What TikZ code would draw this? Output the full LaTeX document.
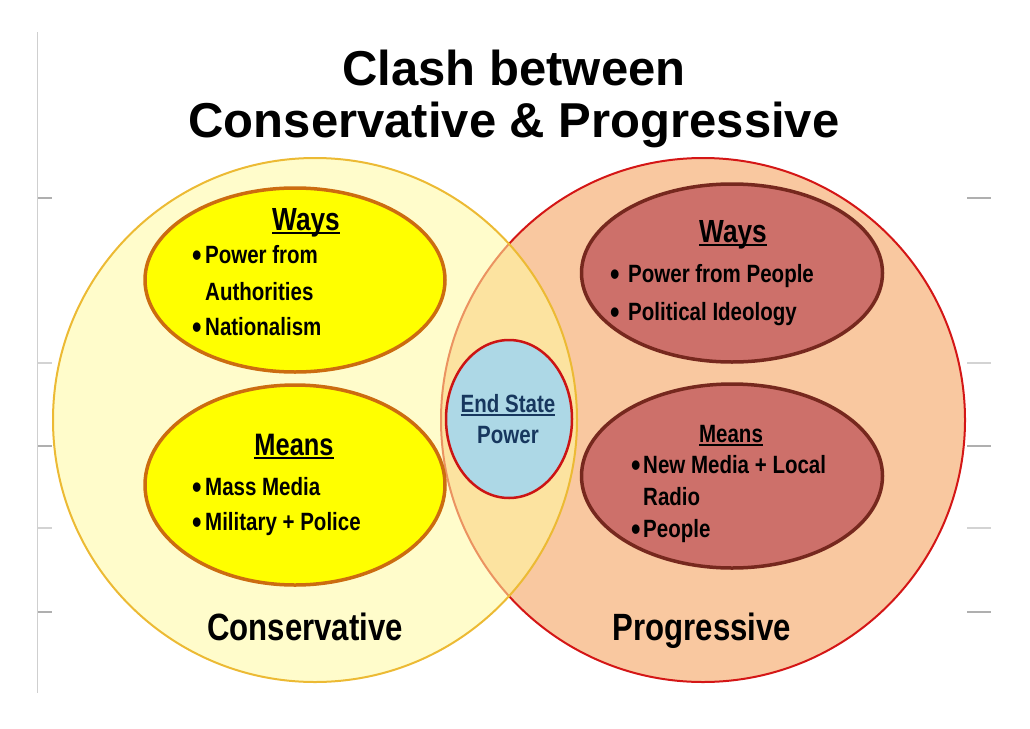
\documentclass[tikz,border=0pt]{standalone}
\usepackage{fontspec}
\setmainfont{Liberation Sans}
\newfontfamily\narrow[FakeStretch=0.82]{Liberation Sans}
\usetikzlibrary{shapes.geometric}
\definecolor{consfill}{RGB}{255,250,160}
\definecolor{consline}{RGB}{236,186,52}
\definecolor{progfill}{RGB}{249,200,160}
\definecolor{progline}{RGB}{212,22,22}
\definecolor{yelfill}{RGB}{255,255,0}
\definecolor{yelline}{RGB}{204,108,16}
\definecolor{redfill}{RGB}{205,112,106}
\definecolor{redline}{RGB}{118,40,30}
\definecolor{bluefill}{RGB}{173,216,230}
\definecolor{endline}{RGB}{204,20,20}
\definecolor{navy}{RGB}{23,55,94}
\definecolor{tickgray}{RGB}{175,175,175}
\newcommand\myul[1]{\sbox0{#1}\rlap{\rule[-3.5pt]{\wd0}{2pt}}\usebox0}
\newcommand\mybul[1]{\makebox[#1][l]{\raisebox{-3pt}{\fontsize{33}{33}\selectfont •}}}
\tikzset{
  bigcircle/.style={circle, inner sep=0pt, minimum size=524pt, line width=2pt},
  yelov/.style={ellipse, inner sep=0pt, fill=yelfill, draw=yelline, line width=3.5pt},
  redov/.style={ellipse, inner sep=0pt, fill=redfill, draw=redline, line width=3.5pt},
  endov/.style={ellipse, inner sep=0pt, fill=bluefill, draw=endline, line width=2.5pt},
  txt/.style={inner sep=0pt, anchor=base west, font=\narrow\bfseries\fontsize{25}{25}\selectfont},
  head/.style={inner sep=0pt, anchor=base, font=\narrow\bfseries\fontsize{32}{32}\selectfont},
  label/.style={inner sep=0pt, anchor=base, font=\narrow\bfseries\fontsize{38}{38}\selectfont},
  titletxt/.style={inner sep=0pt, anchor=base, font=\bfseries\fontsize{49}{49}\selectfont},
  tick/.style={draw=tickgray, line width=1.2pt}
}
\begin{document}
\begin{tikzpicture}[x=1pt,y=-1pt]
\useasboundingbox (0,0) rectangle (1030,728);
% slide edge marks
\draw[draw=tickgray!60, line width=1pt] (37.5,32) -- (37.5,693);
\foreach \yy in {198,446,612} {
  \draw[tick] (38,\yy) -- (52,\yy);
  \draw[tick] (967,\yy) -- (991,\yy);
}
\foreach \yy in {363,528} {
  \draw[tick, draw=tickgray!55] (38,\yy) -- (52,\yy);
  \draw[tick, draw=tickgray!55] (967,\yy) -- (991,\yy);
}
% title
\node[titletxt] (t1) at (514,85) {Clash between};
\node[titletxt] (t2) at (514,137) {Conservative \& Progressive};
% big circles
\node[bigcircle, fill=progfill, draw=progline] (prog) at (703,420) {};
\node[bigcircle, fill=consfill, fill opacity=0.55, draw=consline] (cons) at (315,420) {};
% inner ellipses
\node[yelov, minimum width=300pt, minimum height=184pt] (lw) at (295,280) {};
\node[yelov, minimum width=300pt, minimum height=200pt] (lm) at (295,485) {};
\node[redov, minimum width=301pt, minimum height=178pt] (rw) at (732,273) {};
\node[redov, minimum width=301pt, minimum height=184pt] (rm) at (732,476) {};
\node[endov, minimum width=126pt, minimum height=158pt] (es) at (509,419) {};
% left ways
\node[head] (lwh) at (306,230) {\myul{Ways}};
\node[txt] (lw1) at (192,263) {\mybul{13pt}Power from};
\node[txt] (lw2) at (205,300) {Authorities};
\node[txt] (lw3) at (192,335) {\mybul{13pt}Nationalism};
% left means
\node[head, font=\narrow\bfseries\fontsize{31}{31}\selectfont] (lmh) at (294,455) {\myul{Means}};
\node[txt] (lm1) at (192,495) {\mybul{13pt}Mass Media};
\node[txt] (lm2) at (192,530) {\mybul{13pt}Military + Police};
% right ways
\node[head] (rwh) at (733,242) {\myul{Ways}};
\node[txt] (rw1) at (610,282) {\mybul{18pt}Power from People};
\node[txt] (rw2) at (610,320) {\mybul{18pt}Political Ideology};
% right means
\node[head, font=\narrow\bfseries\fontsize{25}{25}\selectfont] (rmh) at (731,442) {\myul{Means}};
\node[txt] (rm1) at (631,473) {\mybul{12pt}New Media + Local};
\node[txt] (rm2) at (643,505) {Radio};
\node[txt] (rm3) at (631,537) {\mybul{12pt}People};
% end state
\node[head, font=\narrow\bfseries\fontsize{25}{25}\selectfont, text=navy] (esh) at (508,412) {\myul{End State}};
\node[head, font=\narrow\bfseries\fontsize{25}{25}\selectfont, text=navy] (esp) at (508,443) {Power};
% circle labels
\node[label] (cl) at (305,640) {Conservative};
\node[label] (pl) at (702,640) {Progressive};
\end{tikzpicture}
\end{document}
